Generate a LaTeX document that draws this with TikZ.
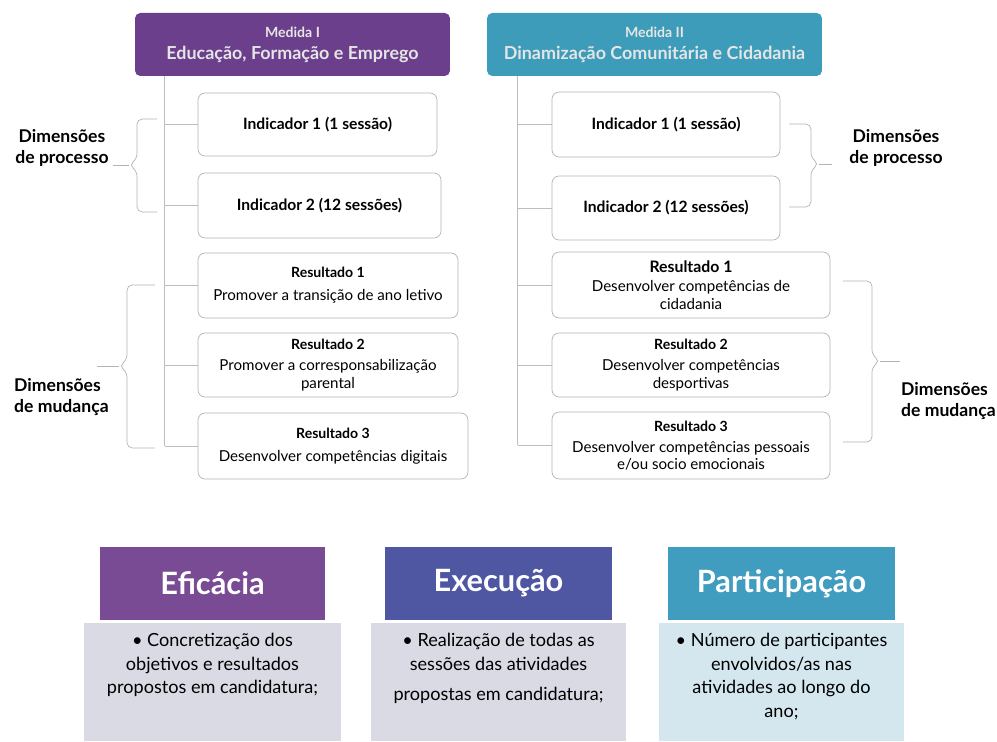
\documentclass[tikz,border=0pt]{standalone}
\usepackage{fontspec}
\setmainfont{Lato}
\usetikzlibrary{positioning,calc}
\definecolor{medpurple}{HTML}{6B3F8C}
\definecolor{medteal}{HTML}{3C9CBA}
\definecolor{efpurple}{HTML}{7A4B95}
\definecolor{exblue}{HTML}{4F56A2}
\definecolor{parteal}{HTML}{409DC0}
\definecolor{bodygray}{HTML}{D9DAE4}
\definecolor{bodyblue}{HTML}{D4E7EE}
\definecolor{linegray}{HTML}{A0A0A0}

\begin{document}
\begin{tikzpicture}[x=0.02cm, y=-0.02cm,
  medida/.style={rectangle, fill=#1, rounded corners=3pt, minimum height=1.26cm, align=center, text=white!90!black, font=\fontsize{10.2}{12.5}\selectfont\bfseries},
  item/.style={rectangle, draw=linegray!80, rounded corners=4pt, minimum height=1.3cm, align=center, font=\fontsize{8.6}{10}\selectfont},
  indic/.style={item, font=\fontsize{8.9}{10}\selectfont\bfseries},
  crit/.style={rectangle, fill=#1, minimum width=4.52cm, minimum height=1.46cm, text=white, font=\fontsize{17.5}{20}\selectfont\bfseries},
  critbody/.style={rectangle, fill=#1, minimum height=2.36cm},
  crittext/.style={align=center, anchor=north, font=\fontsize{10.3}{13.4}\selectfont},
  dimlabel/.style={font=\fontsize{10}{11.5}\selectfont\bfseries},
  link/.style={draw=linegray!70, line width=0.4pt},
  brace/.style={draw=linegray!80, line width=0.4pt, rounded corners=3pt}
]
  \useasboundingbox (0,0) rectangle (997,742);

  % Medida I
  \node[medida=medpurple, minimum width=6.3cm] (mL) at (292.5,44.5) {{\fontsize{8}{9}\selectfont Medida I}\\Educação, Formação e Emprego};
  \node[indic, minimum width=4.78cm, minimum height=1.26cm] (i1L) at (317.5,124.5) {Indicador 1 (1 sessão)};
  \node[indic, minimum width=4.86cm] (i2L) at (319.5,205.5) {Indicador 2 (12 sessões)};
  \node[item, minimum width=5.2cm] (r1L) at (328,285.5) {\textbf{\fontsize{8}{9}\selectfont Resultado 1}\\[3pt]Promover a transição de ano letivo};
  \node[item, minimum width=5.2cm, minimum height=1.28cm] (r2L) at (328,365) {\textbf{\fontsize{8}{9}\selectfont Resultado 2}\\[2pt]Promover a corresponsabilização\\parental};
  \node[item, minimum width=5.4cm, minimum height=1.32cm] (r3L) at (333,446) {\textbf{\fontsize{8}{9}\selectfont Resultado 3}\\[3pt]Desenvolver competências digitais};

  % Medida II
  \node[medida=medteal, minimum width=6.7cm] (mR) at (654.5,44.5) {{\fontsize{8}{9}\selectfont Medida II}\\Dinamização Comunitária e Cidadania};
  \node[indic, minimum width=4.56cm] (i1R) at (666,124.5) {Indicador 1 (1 sessão)};
  \node[indic, minimum width=4.56cm, minimum height=1.28cm] (i2R) at (666,208) {Indicador 2 (12 sessões)};
  \node[item, minimum width=5.56cm, minimum height=1.32cm] (r1R) at (691,285) {\textbf{\fontsize{9}{10}\selectfont Resultado 1}\\[1pt]Desenvolver competências de\\cidadania};
  \node[item, minimum width=5.56cm, minimum height=1.28cm] (r2R) at (691,365) {\textbf{\fontsize{8}{9}\selectfont Resultado 2}\\[2pt]Desenvolver competências\\desportivas};
  \node[item, minimum width=5.56cm, minimum height=1.34cm] (r3R) at (691,445.5) {\textbf{\fontsize{8}{9}\selectfont Resultado 3}\\[2pt]Desenvolver competências pessoais\\e/ou socio emocionais};

  % linhas
  \coordinate (vL) at ($(mL.south west)+(30,0)$);
  \coordinate (vR) at ($(mR.south west)+(31,0)$);
  \draw[link] (vL) -- (vL |- r3L.west);
  \draw[link] (vR) -- (vR |- r3R.west);
  \foreach \b in {i1L,i2L,r1L,r2L,r3L}
    \draw[link] (vL |- \b.west) -- (\b.west);
  \foreach \b in {i1R,i2R,r1R,r2R,r3R}
    \draw[link] (vR |- \b.west) -- (\b.west);

  % dimensoes
  \node[dimlabel, align=center] (dpL) at (62,148) {Dimensões\\de processo};
  \node[dimlabel, align=left, anchor=west] (dmL) at (8,397) {Dimensões\\de mudança};
  \node[dimlabel, align=center] (dpR) at (896,148) {Dimensões\\de processo};
  \node[dimlabel, align=left, anchor=west] (dmR) at (895,401) {Dimensões\\de mudança};

  \coordinate (tpL) at (113,165);
  \draw[brace] (157,119) -- (137,119) -- (137,159) -- (129,165) -- (137,171) -- (137,212) -- (157,212);
  \draw[brace] (129,165) -- (tpL);
  \coordinate (tmL) at (97,366);
  \draw[brace] (155,285) -- (127,285) -- (127,360) -- (119,366) -- (127,372) -- (127,448) -- (155,448);
  \draw[brace] (119,366) -- (tmL);
  \coordinate (tpR) at (832,164);
  \draw[brace] (789,124) -- (811,124) -- (811,158) -- (819,164) -- (811,170) -- (811,207) -- (789,207);
  \draw[brace] (819,164) -- (tpR);
  \coordinate (tmR) at (900,361);
  \draw[brace] (843,281) -- (872,281) -- (872,355) -- (880,361) -- (872,367) -- (872,442) -- (843,442);
  \draw[brace] (880,361) -- (tmR);

  % criterios
  \node[crit=efpurple, minimum width=4.5cm] (hE) at (212.5,583.5) {Eficácia};
  \node[crit=exblue, minimum width=4.54cm] (hX) at (498.5,583.5) {Execução};
  \node[crit=parteal, minimum width=4.54cm] (hP) at (781.5,583.5) {Participação};
  \node[critbody=bodygray, minimum width=5.14cm, below=0.04cm of hE] (bE) {};
  \node[critbody=bodygray, minimum width=5.12cm, below=0.04cm of hX] (bX) {};
  \node[critbody=bodyblue, minimum width=4.9cm, below=0.04cm of hP] (bP) {};
  \node[crittext] (tE) at ($(bE.north)+(0,5)$) {• Concretização dos\\objetivos e resultados\\propostos em candidatura;};
  \node[crittext] (tX) at ($(bX.north)+(0,5)$) {• Realização de todas as\\sessões das atividades\\[4pt]propostas em candidatura;};
  \node[crittext] (tP) at ($(bP.north)+(0,5)$) {• Número de participantes\\envolvidos/as nas\\atividades ao longo do\\ano;};
\end{tikzpicture}
\end{document}
